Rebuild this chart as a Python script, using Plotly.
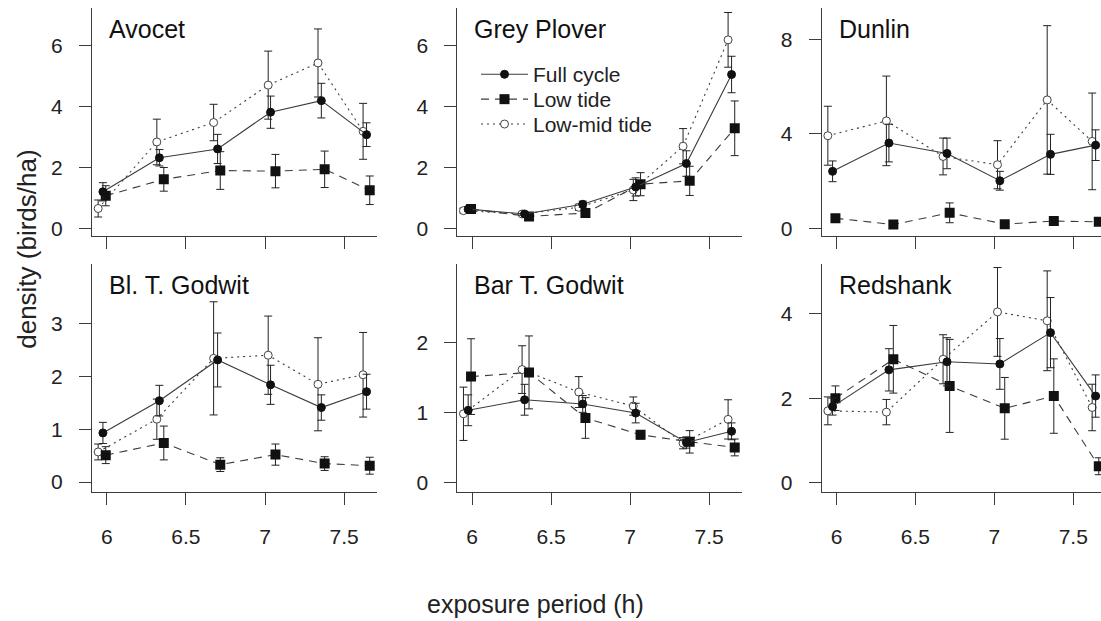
import plotly.graph_objects as go

# ---- data -------------------------------------------------------------
species = ["Avocet", "Grey Plover", "Dunlin", "Bl. T. Godwit", "Bar T. Godwit", "Redshank"]

# exposure period (h) for each sampling group, slightly offset per series
x_full_cycle = [5.975, 6.332, 6.700, 7.035, 7.356, 7.642]
x_low_tide = [5.993, 6.360, 6.717, 7.066, 7.377, 7.662]
x_low_mid_tide = [5.945, 6.316, 6.675, 7.020, 7.335, 7.620]

avocet_full = [1.20, 2.32, 2.61, 3.82, 4.20, 3.08]
avocet_full_err = [0.30, 0.27, 0.48, 0.53, 0.57, 0.39]
avocet_low = [1.07, 1.61, 1.90, 1.88, 1.94, 1.25]
avocet_low_err = [0.33, 0.39, 0.62, 0.55, 0.60, 0.47]
avocet_lowmid = [0.65, 2.84, 3.48, 4.71, 5.44, 3.19]
avocet_lowmid_err = [0.28, 0.75, 0.60, 1.12, 1.12, 0.92]

plover_full = [0.63, 0.47, 0.79, 1.36, 2.13, 5.06]
plover_full_err = [0.08, 0.05, 0.10, 0.30, 0.42, 0.60]
plover_low = [0.63, 0.39, 0.50, 1.45, 1.56, 3.29]
plover_low_err = [0.08, 0.05, 0.08, 0.38, 0.48, 0.90]
plover_lowmid = [0.58, 0.47, 0.69, 1.26, 2.70, 6.20]
plover_lowmid_err = [0.08, 0.05, 0.10, 0.35, 0.58, 0.90]

dunlin_full = [2.41, 3.61, 3.17, 2.01, 3.13, 3.52]
dunlin_full_err = [0.44, 0.80, 0.65, 0.40, 0.85, 0.65]
dunlin_low = [0.42, 0.15, 0.65, 0.17, 0.30, 0.27]
dunlin_low_err = [0.06, 0.04, 0.42, 0.04, 0.05, 0.05]
dunlin_lowmid = [3.92, 4.55, 3.04, 2.69, 5.44, 3.68]
dunlin_lowmid_err = [1.25, 1.90, 0.78, 1.02, 3.15, 2.05]

bltg_full = [0.93, 1.54, 2.31, 1.84, 1.41, 1.71]
bltg_full_err = [0.20, 0.29, 0.51, 0.37, 0.24, 0.33]
bltg_low = [0.51, 0.74, 0.33, 0.52, 0.35, 0.31]
bltg_low_err = [0.16, 0.32, 0.13, 0.20, 0.13, 0.16]
bltg_lowmid = [0.57, 1.19, 2.34, 2.40, 1.85, 2.03]
bltg_lowmid_err = [0.15, 0.38, 1.07, 0.74, 0.88, 0.80]

bartg_full = [1.03, 1.18, 1.12, 0.99, 0.57, 0.73]
bartg_full_err = [0.22, 0.22, 0.12, 0.14, 0.08, 0.12]
bartg_low = [1.51, 1.57, 0.92, 0.68, 0.58, 0.50]
bartg_low_err = [0.54, 0.52, 0.29, 0.06, 0.16, 0.12]
bartg_lowmid = [0.98, 1.61, 1.29, 1.09, 0.56, 0.90]
bartg_lowmid_err = [0.38, 0.34, 0.22, 0.13, 0.08, 0.28]

redshank_full = [1.80, 2.67, 2.86, 2.81, 3.55, 2.05]
redshank_full_err = [0.20, 0.50, 0.57, 0.60, 0.83, 0.50]
redshank_low = [2.00, 2.92, 2.29, 1.76, 2.05, 0.39]
redshank_low_err = [0.29, 0.80, 1.10, 0.73, 0.88, 0.20]
redshank_lowmid = [1.70, 1.67, 2.92, 4.04, 3.83, 1.78]
redshank_lowmid_err = [0.33, 0.30, 0.58, 1.05, 1.18, 0.55]

full_series = [avocet_full, plover_full, dunlin_full, bltg_full, bartg_full, redshank_full]
full_errors = [avocet_full_err, plover_full_err, dunlin_full_err, bltg_full_err, bartg_full_err, redshank_full_err]
low_series = [avocet_low, plover_low, dunlin_low, bltg_low, bartg_low, redshank_low]
low_errors = [avocet_low_err, plover_low_err, dunlin_low_err, bltg_low_err, bartg_low_err, redshank_low_err]
lowmid_series = [avocet_lowmid, plover_lowmid, dunlin_lowmid, bltg_lowmid, bartg_lowmid, redshank_lowmid]
lowmid_errors = [avocet_lowmid_err, plover_lowmid_err, dunlin_lowmid_err, bltg_lowmid_err, bartg_lowmid_err, redshank_lowmid_err]

x_tickvals = [6, 6.5, 7, 7.5]
x_ticktext = ["6", "6.5", "7", "7.5"]
y_tickvals = [[0, 2, 4, 6], [0, 2, 4, 6], [0, 4, 8], [0, 1, 2, 3], [0, 1, 2], [0, 2, 4]]

# ---- layout geometry --------------------------------------------------
W, H = 1101, 621
col_px = [(92, 377), (457.3, 742), (821.7, 1101)]
row_px = [(8, 237.3), (265, 494)]
x_ranges = [[5.906, 7.708], [5.906, 7.708], [5.906, 7.676]]
y_ranges = [[-0.26, 7.25], [-0.26, 7.25], [-0.34, 9.34], [-0.18, 4.13], [-0.13, 3.12], [-0.21, 5.18]]

FONT = "Liberation Sans, Arial, Helvetica, sans-serif"
INK = "#222222"
LINE = "#3c3c3c"

fig = go.Figure()

series_styles = [
    # name, x, values, errors, marker, dash, legend id
    ("Low-mid tide", x_low_mid_tide, lowmid_series, lowmid_errors,
     dict(symbol="circle", size=8, color="white", line=dict(color="#444444", width=1)),
     "2px,4px", "legend3"),
    ("Low tide", x_low_tide, low_series, low_errors,
     dict(symbol="square", size=10, color="#111111", line=dict(width=0)),
     "8px,6px", "legend2"),
    ("Full cycle", x_full_cycle, full_series, full_errors,
     dict(symbol="circle", size=8, color="#111111", line=dict(color="#111111", width=1)),
     "solid", "legend"),
]

for i, sp in enumerate(species):
    ax = "" if i == 0 else str(i + 1)
    for name, xs, vals, errs, marker, dash, leg in series_styles:
        fig.add_trace(go.Scatter(
            x=xs, y=vals[i],
            mode="lines+markers",
            name=name,
            legend=leg,
            showlegend=(i == 1),
            line=dict(color=LINE, width=1.1, dash=dash),
            marker=marker,
            error_y=dict(type="data", array=errs[i], color=INK, thickness=1, width=4),
            xaxis="x" + ax, yaxis="y" + ax,
        ))

layout = dict(
    width=W, height=H,
    margin=dict(l=0, r=0, t=0, b=0),
    paper_bgcolor="white", plot_bgcolor="white",
    font=dict(family=FONT, size=21, color=INK),
    showlegend=True,
)

annotations = []
for i, sp in enumerate(species):
    r, c = divmod(i, 3)
    ax = "" if i == 0 else str(i + 1)
    x0, x1 = col_px[c]
    y0, y1 = row_px[r]
    layout["xaxis" + ax] = dict(
        domain=[x0 / W, x1 / W], anchor="y" + ax, range=x_ranges[c],
        showline=True, linecolor=LINE, linewidth=1, mirror=False,
        ticks="outside", ticklen=12, tickwidth=1, tickcolor=LINE,
        tickvals=x_tickvals, ticktext=x_ticktext,
        showticklabels=(r == 1), ticklabelstandoff=14,
        tickfont=dict(size=21, color=INK),
        showgrid=False, zeroline=False,
    )
    layout["yaxis" + ax] = dict(
        domain=[1 - y1 / H, 1 - y0 / H], anchor="x" + ax, range=y_ranges[i],
        showline=True, linecolor=LINE, linewidth=1, mirror=False,
        ticks="outside", ticklen=12, tickwidth=1, tickcolor=LINE,
        tickvals=y_tickvals[i], ticklabelstandoff=12,
        tickfont=dict(size=21, color=INK),
        showgrid=False, zeroline=False,
    )
    annotations.append(dict(
        text=sp, xref="x" + ax + " domain", yref="y" + ax + " domain",
        x=0, y=1, xshift=15, yshift=-21, xanchor="left", yanchor="middle",
        showarrow=False, font=dict(size=25, color="#111111"),
    ))

annotations.append(dict(
    text="density (birds/ha)", xref="paper", yref="paper",
    x=27 / W, y=1 - 251 / H, textangle=-90, xanchor="center", yanchor="middle",
    showarrow=False, font=dict(size=26, color=INK),
))
annotations.append(dict(
    text="exposure period (h)", xref="paper", yref="paper",
    x=535 / W, y=1 - 607 / H, xanchor="center", yanchor="middle",
    showarrow=False, font=dict(size=25, color=INK),
))
layout["annotations"] = annotations

legend_common = dict(
    xanchor="left", yanchor="middle", bgcolor="rgba(0,0,0,0)",
    borderwidth=0, itemwidth=47, font=dict(size=21, color=INK),
    itemclick=False, itemdoubleclick=False,
)
layout["legend"] = dict(x=476 / W, y=1 - 75 / H, **legend_common)
layout["legend2"] = dict(x=476 / W, y=1 - 100 / H, **legend_common)
layout["legend3"] = dict(x=476 / W, y=1 - 125 / H, **legend_common)

fig.update_layout(**layout)
fig.write_html("out.html")
